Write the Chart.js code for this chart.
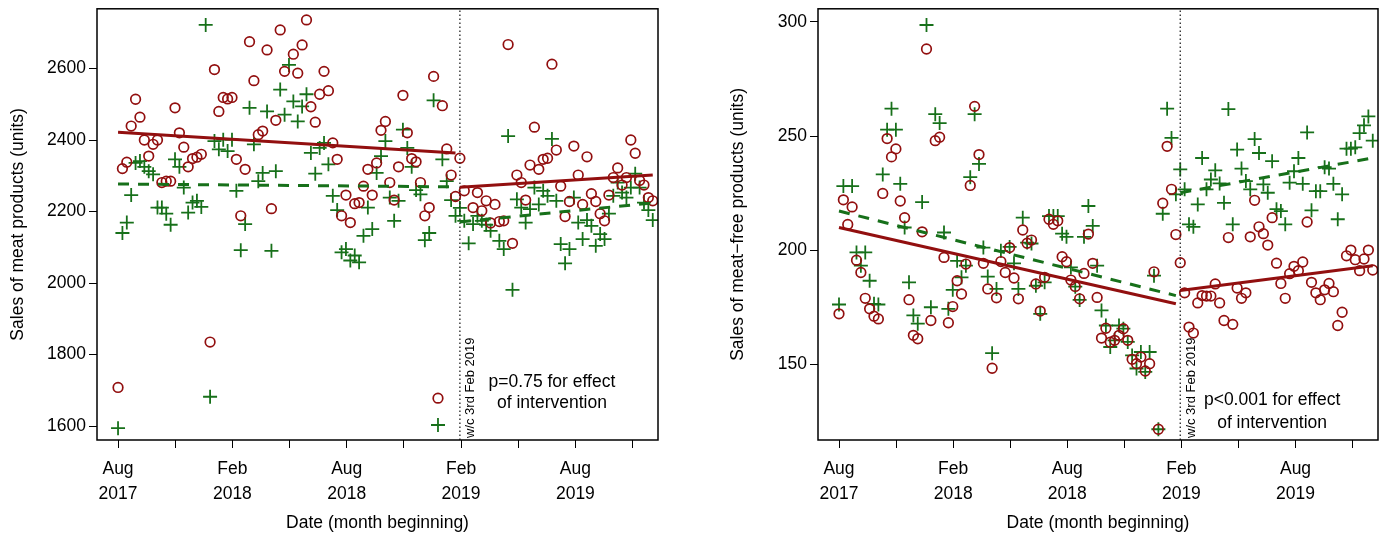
<!DOCTYPE html>
<html>
<head>
<meta charset="utf-8">
<script src="https://cdn.jsdelivr.net/npm/chart.js@4.4.0/dist/chart.umd.min.js"></script>
<style>
  body { margin: 0; background: #fff; }
  .panel { position: absolute; top: 0; width: 700px; height: 540px; }
</style>
</head>
<body>
<div class="panel" style="left:0"><canvas id="meatChart" width="700" height="540"></canvas></div>
<div class="panel" style="left:700px"><canvas id="freeChart" width="700" height="540"></canvas></div>
<script>
const FONT = '"Liberation Sans", Arial, Helvetica, sans-serif';
const RED = '#920f0f';
const GREEN = '#17701a';

// week index 0 = first week of Aug 2017
const weeks = Array.from({ length: 123 }, (_, i) => i);
const interventionWeek = 78; // w/c 3rd Feb 2019

const tickWeeks = [0, 13.04, 26.09, 39.13, 52.18, 65.22, 78.26, 91.31, 104.35, 117.39];
const tickLabels = [['Aug', '2017'], '', ['Feb', '2018'], '', ['Aug', '2018'], '', ['Feb', '2019'], '', ['Aug', '2019'], ''];

// meat products (left)
const meatTicks = [1600, 1800, 2000, 2200, 2400, 2600];
const meatRed = [
  1708, 2320, 2338, 2439, 2514, 2464, 2400, 2355, 2388, 2400,
  2281, 2285, 2285, 2490, 2420, 2380, 2325, 2348, 2352, 2360,
  null, 1835, 2597, 2480, 2519, 2515, 2519, 2346, 2188, 2318,
  2675, 2566, 2415, 2425, 2652, 2208, 2455, 2708, 2592, null,
  2640, 2587, 2666, 2736, 2493, 2450, 2528, 2592, 2538, 2392,
  2346, 2188, 2246, 2169, 2222, 2225, 2271, 2318, 2246, 2336,
  2427, 2452, 2281, 2232, 2325, 2525, 2420, 2348, 2339, 2281,
  2188, 2211, 2578, 1678, 2496, 2375, 2302, 2242, 2349, 2258,
  null, 2211, 2253, 2202, 2230, 2168, 2220, 2172, 2174, 2667,
  2111, 2302, 2281, 2232, 2330, 2436, 2318, 2346, 2349, 2612,
  2372, 2271, 2186, 2228, 2383, 2302, 2220, 2353, 2250, 2228,
  2194, 2174, 2246, 2295, 2322, 2274, 2295, 2400, 2363, 2287,
  2274, 2239, 2230
];
const meatGreen = [
  1594, 2140, 2169, 2246, 2336, 2341, 2325, 2313, 2304, 2211,
  2211, 2194, 2163, 2346, 2325, 2267, 2197, 2225, 2230, 2213,
  2722, 1682, 2397, 2374, 2401, 2369, 2401, 2258, 2092, 2165,
  2490, 2388, 2285, 2308, 2480, 2090, 2313, 2541, 2471, 2610,
  2508, 2452, 2494, 2528, 2364, 2306, 2378, 2392, 2332, 2244,
  2204, 2086, 2095, 2063, 2077, 2058, 2132, 2211, 2151, 2308,
  2355, 2397, 2239, 2174, 2230, 2429, 2378, 2325, 2260, 2248,
  2120, 2140, 2511, 1603, 2346, 2285, 2232, 2188, 2210, 2174,
  2111, 2165, 2188, 2174, 2163, 2146, null, 2118, 2095, 2411,
  1981, 2234, 2211, 2169, 2207, 2267, 2220, 2258, 2244, 2403,
  2230, 2109, 2055, 2095, 2239, 2169, 2123, 2176, 2160, 2104,
  2137, 2123, 2194, 2244, 2281, 2253, 2239, 2267, 2306, 2267,
  2225, 2204, 2176
];
const meatRedPre = [2422, 2364];
const meatRedPost = [2268, 2302];
const meatGreenPre = [2277, 2269];
const meatGreenPost = [2171, 2224];

// meat-free products (right)
const freeTicks = [150, 200, 250, 300];
const freeRed = [
  172.2, 222.1, 211.3, 219.0, 195.7, 190.3, 179.0, 174.4, 171.2, 170.0,
  224.9, 248.9, 240.9, 244.4, 221.6, 214.3, 178.4, 162.8, 161.3, 208.1,
  288.1, 169.3, 248.0, 249.5, 196.9, 168.3, 175.4, 186.7, 180.9, 194.0,
  228.4, 263.0, 241.9, 194.3, 183.1, 148.4, 179.2, 195.1, 190.3, 201.2,
  187.9, 178.8, 208.9, 203.1, 204.5, 185.3, 173.4, 188.2, 213.6, 211.4,
  212.9, 197.2, 195.0, 187.0, 184.2, 178.8, 189.9, 207.1, 194.3, 179.4,
  161.6, 165.9, 159.8, 160.6, 162.8, 165.7, 160.6, 152.3, 150.4, 153.3,
  147.2, 150.4, 190.6, 121.7, 220.6, 245.5, 226.7, 206.9, 194.6, 181.4,
  166.4, 163.8, 177.0, 180.2, 180.0, 180.0, 185.3, 177.0, 169.3, 205.6,
  167.6, 183.5, 179.0, 181.4, 205.9, 221.9, 210.3, 207.3, 202.3, 214.3,
  194.4, 185.5, 179.0, 189.8, 193.0, 191.1, 194.9, 212.4, 186.0, 181.4,
  178.4, 182.7, 185.5, 181.9, 167.1, 172.9, 197.6, 200.1, 195.9, 191.1,
  196.2, 200.1, 191.4
];
const freeGreen = [
  176.3, 228.1, null, 228.1, 199.1, 193.3, 199.1, 186.7, 176.6, 176.3,
  233.2, 252.8, 262.0, 252.8, 229.1, 210.0, 186.0, 171.5, 167.9, 221.1,
  298.6, 175.1, 259.6, 255.7, 207.8, 174.4, 182.7, 195.4, 188.2, 193.3,
  232.0, 259.6, 237.8, 201.2, 188.5, 155.0, 183.1, 199.8, null, 201.5,
  194.3, 183.1, 214.3, 203.4, 203.0, 184.5, 172.2, 186.0, 215.0, 215.0,
  215.0, 207.3, 205.9, 192.5, 184.1, 178.3, 205.9, 219.4, 210.7, 193.3,
  173.7, 167.1, 157.7, 160.6, 167.1, 165.7, 159.9, 154.0, 148.3, 155.5,
  146.8, 155.5, 188.9, 121.7, 216.0, 262.0, 249.2, 224.5, 235.4, 226.7,
  211.4, 210.3, 220.1, 240.4, 226.7, 231.0, 235.0, 229.3, 220.8, 261.8,
  211.4, 244.1, 235.8, 230.3, 226.7, 248.7, 242.6, 228.9, 225.2, 239.0,
  218.0, 217.2, 211.4, 229.6, 234.6, 240.4, 229.1, 251.6, 217.5, 225.9,
  225.9, 236.4, 235.8, 229.1, 213.6, 224.5, 244.5, 244.5, 245.1, 251.3,
  254.7, 258.6, 248.0
];
const freeRedPre = [210.0, 176.6];
const freeRedPost = [182.4, 193.3];
const freeGreenPre = [217.2, 180.2];
const freeGreenPost = [225.2, 240.4];

const preWeeks = [0, 77];
const postWeeks = [78, 122];

function points(arr) {
  return weeks.map((w, i) => ({ x: w, y: arr[i] })).filter(p => p.y !== null);
}
function segment(ws, vs) {
  return ws.map((w, i) => ({ x: w, y: vs[i] }));
}

const boxPlugin = {
  id: 'boxAndNotes',
  afterDraw(chart, args, opts) {
    const { ctx, chartArea: { top, bottom, left, right }, scales: { x } } = chart;
    ctx.save();
    ctx.strokeStyle = '#000';
    ctx.lineWidth = 1.5;
    ctx.strokeRect(left, top, right - left, bottom - top);

    // label on the intervention line
    const lx = x.getPixelForValue(interventionWeek);
    ctx.fillStyle = '#000';
    ctx.font = '13px ' + FONT;
    ctx.translate(lx + 11, bottom - 2);
    ctx.rotate(-Math.PI / 2);
    ctx.textAlign = 'left';
    ctx.textBaseline = 'middle';
    ctx.fillText('w/c 3rd Feb 2019', 0, 0);
    ctx.setTransform(1, 0, 0, 1, 0, 0);

    // p-value note
    ctx.font = '17.5px ' + FONT;
    ctx.textAlign = 'center';
    const cx = x.getPixelForValue(99);
    ctx.fillText(opts.lines[0], cx, bottom - opts.offsets[0]);
    ctx.fillText(opts.lines[1], cx, bottom - opts.offsets[1]);
    ctx.restore();
  }
};

function makeChart(id, cfg) {
  const ctx = document.getElementById(id).getContext('2d');
  return new Chart(ctx, {
    type: 'scatter',
    data: {
      datasets: [
        { data: segment(preWeeks, cfg.redPre), type: 'line', borderColor: RED, borderWidth: 3, pointRadius: 0, order: 0 },
        { data: segment(postWeeks, cfg.redPost), type: 'line', borderColor: RED, borderWidth: 3, pointRadius: 0, order: 0 },
        { data: segment(preWeeks, cfg.greenPre), type: 'line', borderColor: GREEN, borderWidth: 3, borderDash: [11, 9], pointRadius: 0, order: 0 },
        { data: segment(postWeeks, cfg.greenPost), type: 'line', borderColor: GREEN, borderWidth: 3, borderDash: [11, 9], pointRadius: 0, order: 0 },
        { data: segment([interventionWeek, interventionWeek], [cfg.yMin, cfg.yMax]), type: 'line', borderColor: '#222', borderWidth: 1.3, borderDash: [1.5, 2.5], pointRadius: 0, order: 0 },
        { data: points(cfg.green), pointStyle: 'cross', pointRadius: 7, borderColor: GREEN, borderWidth: 1.8, backgroundColor: GREEN, order: 2 },
        { data: points(cfg.red), pointStyle: 'circle', pointRadius: 4.8, borderColor: RED, borderWidth: 1.7, backgroundColor: 'rgba(0,0,0,0)', order: 1 }
      ]
    },
    options: {
      responsive: false,
      animation: false,
      devicePixelRatio: 1,
      layout: { padding: { top: 7, right: cfg.rightPad, left: 0, bottom: 0 } },
      scales: {
        x: {
          type: 'linear',
          min: -4.8,
          max: 123.2,
          afterBuildTicks: s => { s.ticks = tickWeeks.map(v => ({ value: v })); },
          afterFit: s => { s.height = 100; s.paddingLeft = 0; s.paddingRight = 0; },
          grid: { drawOnChartArea: false, drawTicks: true, tickLength: 8, color: '#000', lineWidth: 1 },
          border: { display: false },
          ticks: {
            autoSkip: false, maxRotation: 0, color: '#000', padding: 9,
            font: { size: 17.5, family: FONT, lineHeight: 1.4 },
            callback: (v, i) => tickLabels[i]
          },
          title: { display: true, text: 'Date (month beginning)', color: '#000', font: { size: 17.5, family: FONT }, padding: { top: 0, bottom: 6 } }
        },
        y: {
          min: cfg.yMin,
          max: cfg.yMax,
          afterBuildTicks: s => { s.ticks = cfg.yTicks.map(v => ({ value: v })); },
          afterFit: s => { s.width = cfg.yWidth; s.paddingTop = 0; s.paddingBottom = 0; },
          grid: { drawOnChartArea: false, drawTicks: true, tickLength: 8, color: '#000', lineWidth: 1 },
          border: { display: false },
          ticks: { color: '#000', padding: 3, font: { size: 17.5, family: FONT }, callback: v => String(v) },
          title: { display: true, text: cfg.yTitle, color: '#000', font: { size: 17.5, family: FONT }, padding: { top: cfg.titlePad, bottom: 0 } }
        }
      },
      plugins: {
        legend: { display: false },
        tooltip: { enabled: false },
        boxAndNotes: { lines: cfg.notes, offsets: cfg.noteOffsets }
      }
    },
    plugins: [boxPlugin]
  });
}

makeChart('meatChart', {
  red: meatRed, green: meatGreen,
  redPre: meatRedPre, redPost: meatRedPost, greenPre: meatGreenPre, greenPost: meatGreenPost,
  yMin: 1561, yMax: 2767, yTicks: meatTicks, yWidth: 97, rightPad: 42, titlePad: 8,
  yTitle: 'Sales of meat products (units)',
  notes: ['p=0.75 for effect', 'of intervention'], noteOffsets: [58, 37]
});

makeChart('freeChart', {
  red: freeRed, green: freeGreen,
  redPre: freeRedPre, redPost: freeRedPost, greenPre: freeGreenPre, greenPost: freeGreenPost,
  yMin: 117.0, yMax: 305.7, yTicks: freeTicks, yWidth: 118, rightPad: 22, titlePad: 28,
  yTitle: 'Sales of meat\u2212free products (units)',
  notes: ['p<0.001 for effect', 'of intervention'], noteOffsets: [40, 17]
});
</script>
</body>
</html>
